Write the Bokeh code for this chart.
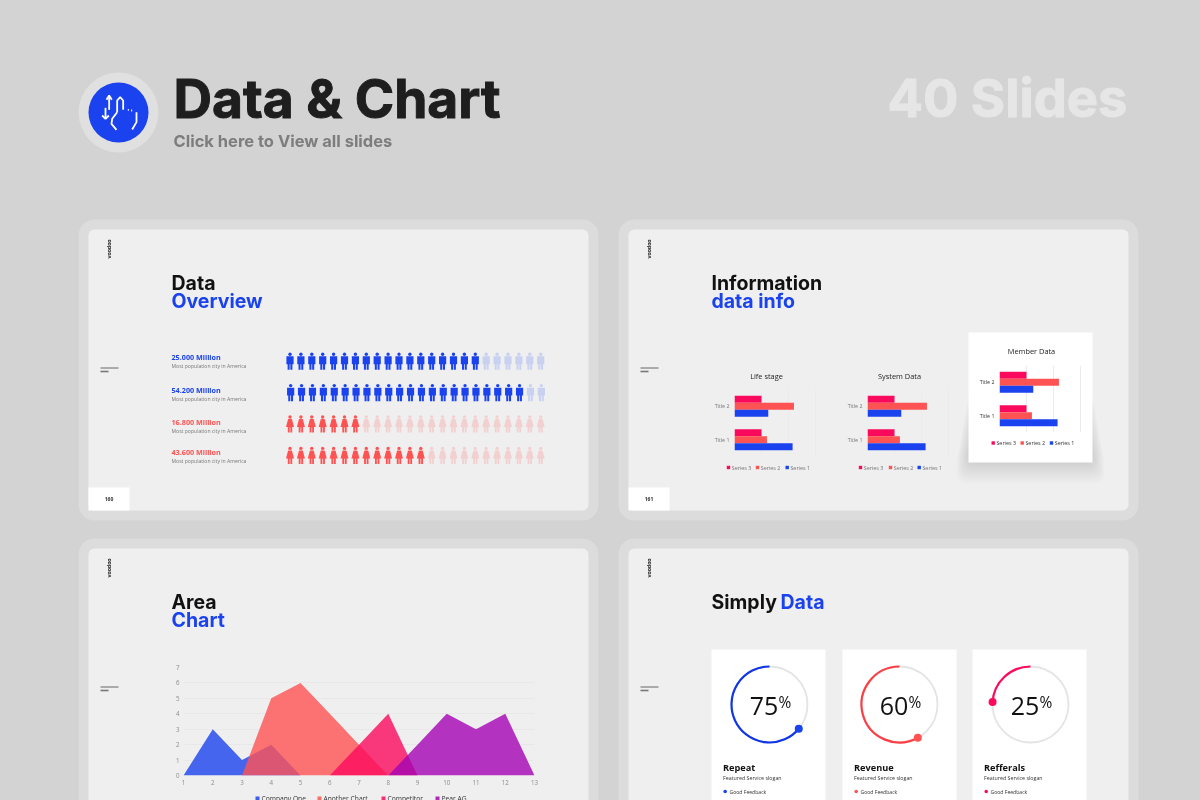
import math
from bokeh.plotting import figure
from bokeh.models import (BoxAnnotation, ColumnDataSource, FactorRange, FixedTicker, Range1d)
from bokeh.core.properties import value
from bokeh.transform import dodge
from bokeh.embed import file_html
from bokeh.resources import INLINE

BLUE, RED, PINK, PURPLE = "#1a42ee", "#ff5252", "#fb0a5e", "#a402b4"
INK = "#111111"

# --- data -----------------------------------------------------------------
pop_labels = ["25.000 Million", "54.200 Million", "16.800 Million", "43.600 Million"]
pop_filled = [18, 22, 7, 13]
pop_total = 24

bar_titles = ["Life stage", "System Data", "Member Data"]
bar_categories = ["Title 1", "Title 2"]
bar_series = ["Series 3", "Series 2", "Series 1"]
series_1 = [4.3, 2.5]
series_2 = [2.4, 4.4]
series_3 = [2.0, 2.0]
bar_ticks = [0, 2, 4, 6]

area_names = ["Company One", "Another Chart", "Competitor", "Pear AG"]
area_x_company = [1, 2, 3, 4, 5]
area_y_company = [0, 3, 1, 2, 0]
area_x_another = [3, 4, 5, 6, 7, 8]
area_y_another = [0, 5, 6, 4, 2, 0]
area_x_competitor = [6, 7, 8, 9]
area_y_competitor = [0, 2, 4, 0]
area_x_pear = [8, 9, 10, 11, 12, 13]
area_y_pear = [0, 2, 4, 3, 4, 0]

gauge_names = ["Repeat", "Revenue", "Refferals"]
gauge_labels = [75, 60, 25]
gauge_arcs = [64, 58, 24]  # share of the ring actually drawn in the picture


def place(p, x, y):
    p.styles = {"position": "fixed", "left": f"{x}px", "top": f"{y}px", "margin": "0"}
    return p


def blank(x, y, w, h, **kw):
    p = figure(width=w, height=h, output_backend="svg", toolbar_location=None,
               min_border=0, outline_line_color=None, **kw)
    p.background_fill_alpha = 0
    p.border_fill_alpha = 0
    return place(p, x, y)


# --- page chrome ------------------------------------------------------------
bg = blank(-3, -3, 1206, 806, x_range=Range1d(-3, 1203), y_range=Range1d(803, -3))
bg.axis.visible = False
bg.grid.visible = False
bg.background_fill_color = "#d3d3d3"
bg.background_fill_alpha = 1
bg.border_fill_color = "#d3d3d3"
bg.border_fill_alpha = 1


def box(l, t, r, b, color, radius=0, alpha=1.0):
    bg.add_layout(BoxAnnotation(left=l, right=r, top=t, bottom=b, fill_color=color, fill_alpha=alpha,
                                line_color=None, border_radius=radius, level="underlay"))


def txt(x, y, s, size, color="#111111", font="Open Sans", style="normal", align="left", angle=0.0, base="middle", outline=None):
    bg.text([x], [y], text=[s], text_font=value(font), text_font_size=f"{size}px", text_color=color,
            text_font_style=style, text_align=align, text_baseline=base, angle=angle, text_outline_color=outline)


def slide(l, t, ttl_a, ttl_b, page=None, one_line=False):
    box(l - 10, t - 10, l + 510, t + 291, "#dcdcdc", 16)
    box(l, t, l + 500, t + 281, "#efefef", 6)
    txt(l + 20, t + 19.5, "voodoo", 5.2, "#222222", "Inter", "bold", "center", math.pi / 2)
    bg.line([l + 12, l + 30], [t + 138.5, t + 138.5], line_color="#666666", line_width=1)
    bg.line([l + 12, l + 20], [t + 142, t + 142], line_color="#777777", line_width=1.6)
    if page:
        box(l, t + 258, l + 41, t + 281, "#ffffff", 0)
        txt(l + 20.5, t + 269, page, 5, "#333333", "Open Sans", "bold", "center")
    if one_line:
        txt(l + 83, t + 53, ttl_a, 19.5, INK, "Inter", "bold")
        txt(l + 152, t + 53, ttl_b, 19.5, BLUE, "Inter", "bold")
    else:
        txt(l + 83, t + 53, ttl_a, 19.5, INK, "Inter", "bold")
        txt(l + 83, t + 71, ttl_b, 19.5, BLUE, "Inter", "bold")


slide(88, 229, "Data", "Overview", "160")
slide(628, 229, "Information", "data info", "161")
slide(88, 548, "Area", "Chart")
slide(628, 548, "Simply", "Data", one_line=True)

# header
bg.scatter([118], [112], size=80, color="#e0e0e0", line_color=None)
bg.scatter([118], [112], size=60, color=BLUE, line_color=None)
icon_paths = [
    [(146, 178), (146, 135)], [(138, 148), (146, 135), (154, 148)],
    [(135, 172), (135, 205)], [(125, 195), (135, 205), (145, 195)],
    [(170, 185), (170, 150), (179, 140), (188, 150), (188, 178)],
    [(170, 185), (155, 205), (153, 220), (168, 238)],
    [(228, 185), (228, 215), (215, 237)],
    [(202, 178), (205, 178)], [(212, 180), (215, 180)],
]
for path in icon_paths:
    bg.line([60 + a / 3 for a, _ in path], [50 + c / 3 for _, c in path], line_color="#ffffff", line_width=1.8)
txt(173, 97.5, "Data & Chart", 53.3, "#1e1e1e", "Inter", "bold", outline="#1e1e1e")
txt(173, 140, "Click here to View all slides", 16.5, "#7d7d7d", "Inter", "bold")
txt(887, 97.5, "40 Slides", 52.5, "#e6e6e6", "Inter", "bold", outline="#e6e6e6")

# population texts
pop_y = [356.5, 389, 421.5, 451.5]
for lab, yy, col in zip(pop_labels, pop_y, [BLUE, BLUE, RED, RED]):
    txt(171, yy, lab, 7.2, col, "Open Sans", "bold")
    txt(171, yy + 9, "Most population city in America", 5.1, "#777777")

# member card shadow and card
for i in range(16):
    box(968 - i * 0.8, 385 + i * 4.5, 1092 + i * 0.8, 462 + i * 1.4, "#000000", 8, 0.006)
box(968, 332, 1092, 462, "#ffffff")

# gauge cards
card_left = [711, 842, 972]
for left, name, col in zip(card_left, gauge_names, [BLUE, RED, PINK]):
    box(left, 649, left + 114, 803, "#ffffff")
    txt(left + 11.5, 766.5, name, 9.2, "#111111", "Open Sans", "bold")
    txt(left + 11.5, 777.5, "Featured Service slogan", 5.3, "#333333")
    bg.scatter([left + 13.7], [791], size=3.6, color=col, line_color=None)
    txt(left + 18, 791, "Good Feedback", 5.1, "#333333")


# --- pictograms -----------------------------------------------------------
pict = blank(280, 345, 270, 125, x_range=Range1d(0.128, 24.9), y_range=Range1d(4.487, 0.506))
pict.axis.visible = False
pict.grid.visible = False
man = [(-3.6, -4.7), (3.6, -4.7), (3.6, 3.2), (2.4, 3.2), (2.4, 8.8), (0.35, 8.8), (0.35, 3.2), (-0.35, 3.2), (-0.35, 8.8), (-2.4, 8.8), (-2.4, 3.2), (-3.6, 3.2)]
woman = [(-1.9, -4.7), (1.9, -4.7), (4, 3.2), (2.2, 3.2), (2.2, 8.8), (0.35, 8.8), (0.35, 3.6), (-0.35, 3.6), (-0.35, 8.8), (-2.2, 8.8), (-2.2, 3.2), (-4, 3.2)]
PX_X, PX_Y = 1 / 10.9, 1 / 31.4
row_styles = [(man, BLUE, "#c9d1f1"), (man, BLUE, "#c9d1f1"), (woman, RED, "#f3d0d0"), (woman, RED, "#f3d0d0")]
for row, (filled, (shape, on, off)) in enumerate(zip(pop_filled, row_styles), start=1):
    shift = 0.06 if row == 2 else 0
    xs, ys, cols, hx, hc = [], [], [], [], []
    for col in range(1, pop_total + 1):
        c = on if col <= filled else off
        xs.append([col + shift + a * PX_X for a, _ in shape])
        ys.append([row + b * PX_Y for _, b in shape])
        cols.append(c)
        hx.append(col + shift)
        hc.append(c)
    pict.patches(xs, ys, fill_color=cols, line_color=None)
    pict.scatter(hx, [row - 6.8 * PX_Y] * len(hx), size=3.4, color=hc, line_color=None)


# --- bar charts -----------------------------------------------------------
BAR_COLORS = ["#fa0a5c", RED, BLUE]


def bar_chart(title, fl, ft, title_cx, title_cy, lab_end, legend_xs, legend_y, label_color):
    fw, fh, ml, mt, mr, mb = 82, 67, 45, 4, 8, 4
    p = figure(width=fw + ml + mr, height=fh + mt + mb, output_backend="svg", toolbar_location=None,
               min_border_left=ml, min_border_top=mt, min_border_right=mr, min_border_bottom=mb,
               x_range=Range1d(0, 6.07), y_range=FactorRange(factors=bar_categories), outline_line_color=None)
    place(p, fl - ml, ft - mt)
    p.background_fill_alpha = 0
    p.border_fill_alpha = 0
    src = ColumnDataSource(dict(cat=bar_categories, s1=series_1, s2=series_2, s3=series_3))
    h = 0.209
    p.hbar(y=dodge("cat", h, range=p.y_range), right="s3", left=0, height=h, source=src, color=BAR_COLORS[0], line_color=None)
    p.hbar(y=dodge("cat", 0, range=p.y_range), right="s2", left=0, height=h, source=src, color=BAR_COLORS[1], line_color=None)
    p.hbar(y=dodge("cat", -h, range=p.y_range), right="s1", left=0, height=h, source=src, color=BAR_COLORS[2], line_color=None)
    p.xaxis.visible = False
    p.ygrid.visible = False
    p.xgrid.ticker = FixedTicker(ticks=bar_ticks)
    p.xgrid.grid_line_color = "#ebebeb"
    ax = p.yaxis[0]
    ax.axis_line_color = None
    ax.major_tick_line_color = None
    ax.minor_tick_line_color = None
    ax.major_tick_out = 0
    ax.major_tick_in = 0
    ax.major_label_text_font = "Open Sans"
    ax.major_label_text_font_size = "5.3px"
    ax.major_label_text_color = label_color
    ax.major_label_standoff = int(fl - lab_end)
    txt(title_cx, title_cy, title, 7.4, "#222222", "Open Sans", "normal", "center")
    for lx, name, col in zip(legend_xs, bar_series, BAR_COLORS):
        box(lx - 1.7, legend_y - 1.7, lx + 1.7, legend_y + 1.7, col)
        txt(lx + 3.2, legend_y, name, 5.4, label_color)
    return p


bars = [
    bar_chart(bar_titles[0], 734, 389, 766, 375, 729, [728, 757, 786.7], 467, "#777777"),
    bar_chart(bar_titles[1], 866.5, 389, 899, 375, 861.5, [860, 890, 918.7], 467, "#777777"),
    bar_chart(bar_titles[2], 999, 365, 1031, 350, 994, [992.7, 1021.7, 1051], 442.5, "#333333"),
]


# --- area chart -----------------------------------------------------------
ml, mt, mr, mb = 30, 5, 10, 20
area = figure(width=351 + ml + mr, height=108 + mt + mb, output_backend="svg", toolbar_location=None,
              min_border_left=ml, min_border_top=mt, min_border_right=mr, min_border_bottom=mb,
              x_range=Range1d(1, 13), y_range=Range1d(0, 7), outline_line_color=None)
place(area, 183 - ml, 667 - mt)
area.background_fill_alpha = 0
area.border_fill_alpha = 0
area.varea(area_x_company, y1=[0] * len(area_x_company), y2=area_y_company, color=BLUE, alpha=0.8)
area.varea(area_x_another, y1=[0] * len(area_x_another), y2=area_y_another, color=RED, alpha=0.8)
area.varea(area_x_competitor, y1=[0] * len(area_x_competitor), y2=area_y_competitor, color=PINK, alpha=0.8)
area.varea(area_x_pear, y1=[0] * len(area_x_pear), y2=area_y_pear, color=PURPLE, alpha=0.8)
area.xgrid.visible = False
area.ygrid.grid_line_color = "#e8e8e8"
area.ygrid.ticker = FixedTicker(ticks=list(range(8)))
area.xaxis.ticker = FixedTicker(ticks=list(range(1, 14)))
area.yaxis.ticker = FixedTicker(ticks=list(range(8)))
for ax in (area.xaxis[0], area.yaxis[0]):
    ax.axis_line_color = None
    ax.major_tick_line_color = None
    ax.minor_tick_line_color = None
    ax.major_tick_out = 0
    ax.major_tick_in = 0
    ax.major_label_text_font = "Open Sans"
    ax.major_label_text_font_size = "6.2px"
    ax.major_label_text_color = "#8c8c8c"
    ax.major_label_standoff = 4
for lx, name, col in zip([257, 319, 383, 437], area_names, [BLUE, RED, PINK, PURPLE]):
    box(lx - 2, 796, lx + 2, 800, col, alpha=0.85)
    txt(lx + 4, 797.7, name, 6.7, "#333333")


# --- gauges ---------------------------------------------------------------
gauges = []
centers = [768.7, 899.3, 1030]
for cx, lab, sweep, col in zip(centers, gauge_labels, gauge_arcs, ["#1136e6", "#fb3f46", PINK]):
    size = 100
    g = blank(round(cx - size / 2), 704 - size // 2, size, size,
              x_range=Range1d(-50, 50), y_range=Range1d(-50, 50))
    g.axis.visible = False
    g.grid.visible = False
    r = 38
    g.circle([0], [0], radius=r, fill_color=None, line_color="#e4e4e4", line_width=1.8)
    start = math.pi / 2
    end = start + sweep / 100 * 2 * math.pi
    g.arc([0], [0], radius=r, start_angle=start, end_angle=end, line_color=col, line_width=2.2)
    g.scatter([r * math.cos(end)], [r * math.sin(end)], size=8, color={"#1136e6": BLUE, "#fb3f46": RED}.get(col, col), line_color=None)
    g.text([-5.5], [-1], text=[str(lab)], text_font=value("Open Sans"), text_font_size="25px", text_color="#111111",
           text_align="center", text_baseline="alphabetic")
    g.text([9], [3], text=["%"], text_font=value("Open Sans"), text_font_size="15.5px", text_color="#111111",
           text_align="left", text_baseline="alphabetic")
    gauges.append(g)

open("out.html", "w").write(file_html([bg, pict, *bars, area, *gauges], INLINE))
